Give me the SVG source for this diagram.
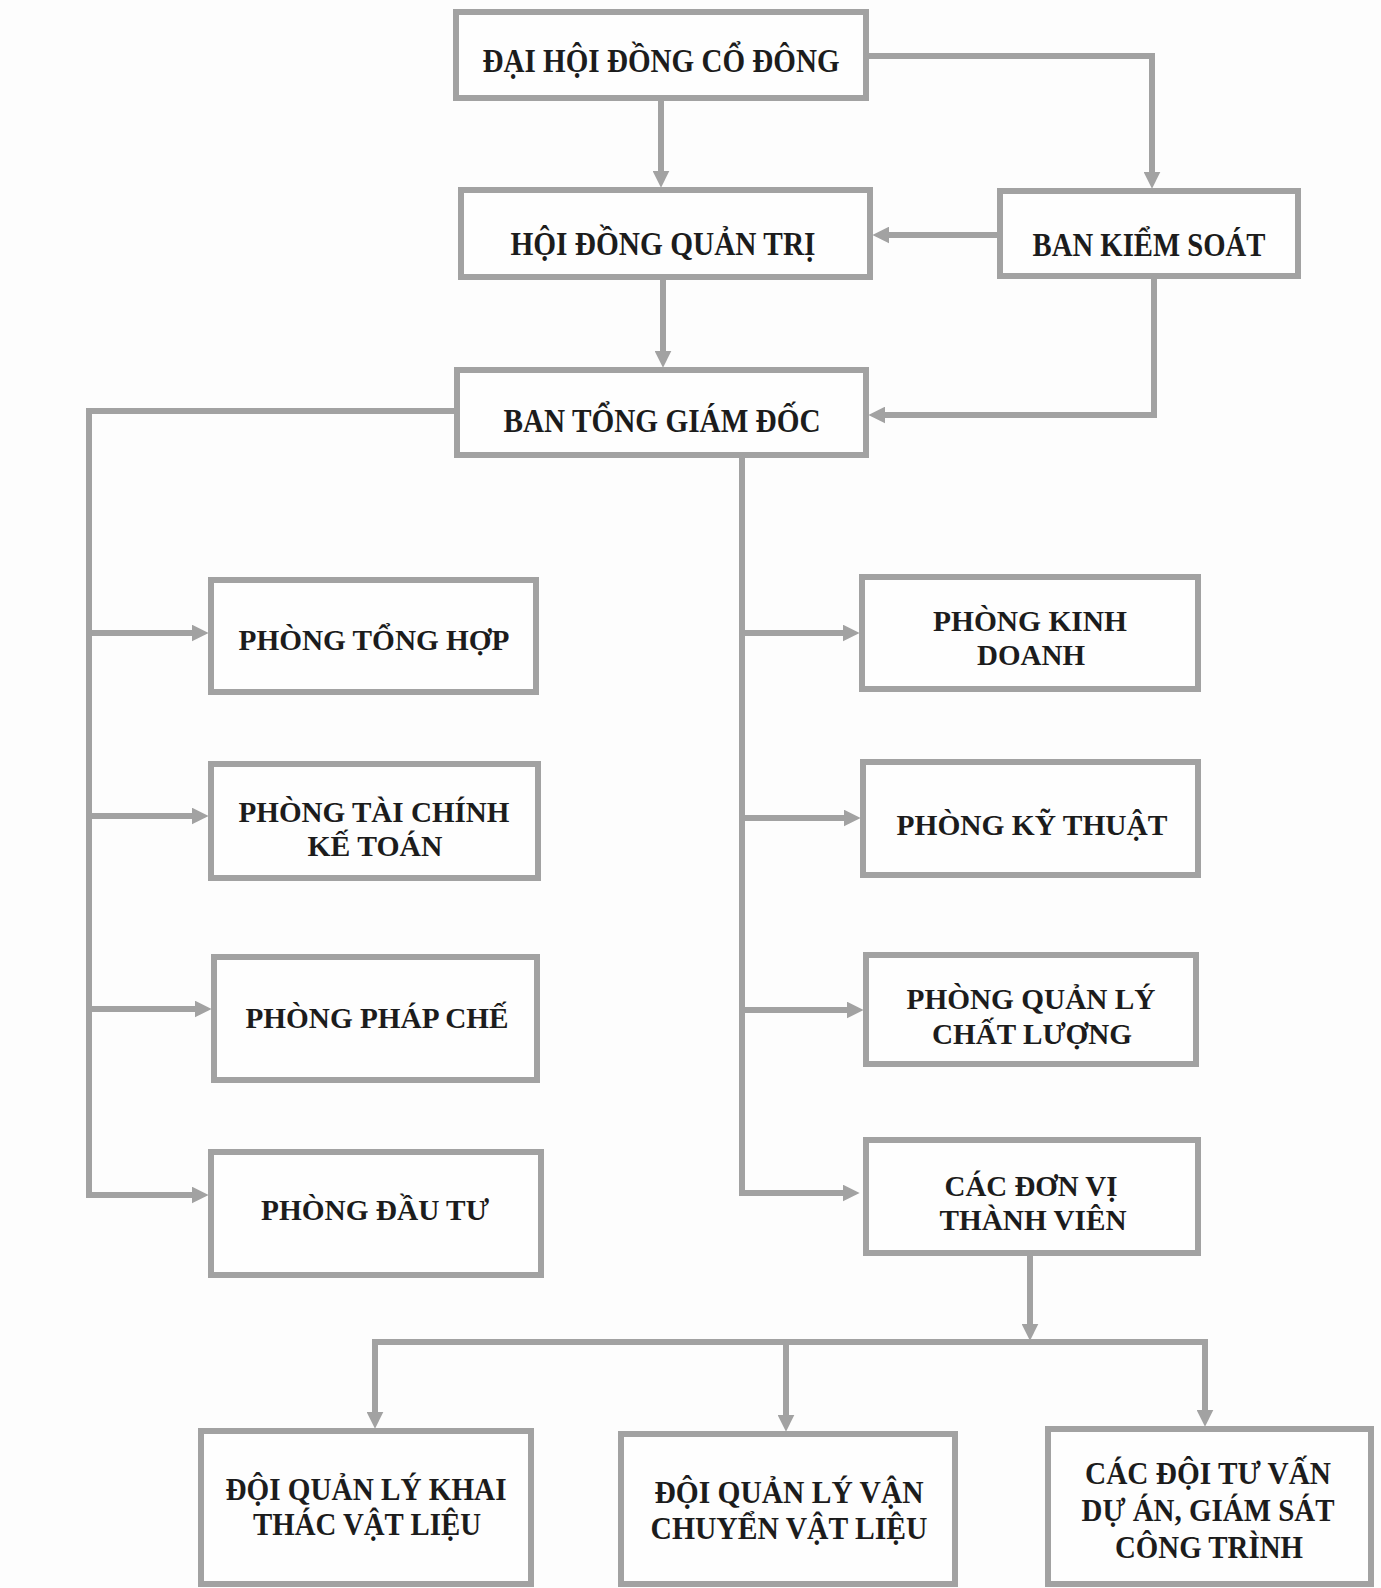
<svg xmlns="http://www.w3.org/2000/svg" width="1381" height="1588" viewBox="0 0 1381 1588">
<style>
.box{fill:#fefefe;stroke:#a2a2a2;stroke-width:6}
.con{fill:none;stroke:#a2a2a2;stroke-width:6;stroke-linecap:square;stroke-linejoin:miter}
.arr{marker-end:url(#ah)}
.t{font-family:"Liberation Serif","Times New Roman",serif;font-weight:bold;font-size:30px;fill:#1c1c1c;text-anchor:middle}
.tl{font-size:33px}
.tb{font-size:31px}
</style>
<defs>
<marker id="ah" viewBox="0 0 16 16" refX="6" refY="8" markerWidth="17" markerHeight="17" markerUnits="userSpaceOnUse" orient="auto">
<path d="M0,0 L16,8 L0,16 z" fill="#a2a2a2"/>
</marker>
</defs>
<rect width="1381" height="1588" fill="#fdfdfd"/>
<g id="connectors">
<path class="con arr" d="M661,101 V177"/>
<path class="con arr" d="M869,56 H1152 V178"/>
<path class="con arr" d="M997,235 H883"/>
<path class="con arr" d="M663,280 V357"/>
<path class="con arr" d="M1154,279 V415 H879"/>
<path class="con arr" d="M451,411 H89 V1195 H198"/>
<path class="con arr" d="M89,633 H198"/>
<path class="con arr" d="M89,816 H198"/>
<path class="con arr" d="M89,1009 H201"/>
<path class="con arr" d="M742,458 V1193 H849"/>
<path class="con arr" d="M742,633 H849"/>
<path class="con arr" d="M742,818 H850"/>
<path class="con arr" d="M742,1010 H853"/>
<path class="con arr" d="M1030,1256 V1330"/>
<path class="con" d="M375,1342 H1205"/>
<path class="con arr" d="M375,1342 V1418"/>
<path class="con arr" d="M786,1342 V1421"/>
<path class="con arr" d="M1205,1342 V1416"/>
</g>
<g id="dai-hoi-dong-co-dong">
<rect class="box" x="456" y="12" width="410" height="86"/>
<text class="t tl" x="661" y="72" textLength="357" lengthAdjust="spacingAndGlyphs">ĐẠI HỘI ĐỒNG CỔ ĐÔNG</text>
</g>
<g id="hoi-dong-quan-tri">
<rect class="box" x="461" y="190" width="409" height="87"/>
<text class="t tl" x="663" y="255" textLength="305" lengthAdjust="spacingAndGlyphs">HỘI ĐỒNG QUẢN TRỊ</text>
</g>
<g id="ban-kiem-soat">
<rect class="box" x="1000" y="191" width="298" height="85"/>
<text class="t tl" x="1149" y="256" textLength="233" lengthAdjust="spacingAndGlyphs">BAN KIỂM SOÁT</text>
</g>
<g id="ban-tong-giam-doc">
<rect class="box" x="457" y="370" width="409" height="85"/>
<text class="t tl" x="662" y="432" textLength="317" lengthAdjust="spacingAndGlyphs">BAN TỔNG GIÁM ĐỐC</text>
</g>
<g id="phong-tong-hop">
<rect class="box" x="211" y="580" width="325" height="112"/>
<text class="t" x="374" y="650" textLength="271" lengthAdjust="spacingAndGlyphs">PHÒNG TỔNG HỢP</text>
</g>
<g id="phong-tai-chinh-ke-toan">
<rect class="box" x="211" y="764" width="327" height="114"/>
<text class="t" x="374" y="822" textLength="271" lengthAdjust="spacingAndGlyphs">PHÒNG TÀI CHÍNH</text>
<text class="t" x="375" y="856" textLength="135" lengthAdjust="spacingAndGlyphs">KẾ TOÁN</text>
</g>
<g id="phong-phap-che">
<rect class="box" x="214" y="957" width="323" height="123"/>
<text class="t" x="377" y="1028" textLength="263" lengthAdjust="spacingAndGlyphs">PHÒNG PHÁP CHẾ</text>
</g>
<g id="phong-dau-tu">
<rect class="box" x="211" y="1152" width="330" height="123"/>
<text class="t" x="375" y="1220" textLength="228" lengthAdjust="spacingAndGlyphs">PHÒNG ĐẦU TƯ</text>
</g>
<g id="phong-kinh-doanh">
<rect class="box" x="862" y="577" width="336" height="112"/>
<text class="t" x="1030" y="631" textLength="194" lengthAdjust="spacingAndGlyphs">PHÒNG KINH</text>
<text class="t" x="1031" y="665" textLength="108" lengthAdjust="spacingAndGlyphs">DOANH</text>
</g>
<g id="phong-ky-thuat">
<rect class="box" x="863" y="762" width="335" height="113"/>
<text class="t" x="1032" y="835" textLength="271" lengthAdjust="spacingAndGlyphs">PHÒNG KỸ THUẬT</text>
</g>
<g id="phong-quan-ly-chat-luong">
<rect class="box" x="866" y="955" width="330" height="109"/>
<text class="t" x="1031" y="1009" textLength="249" lengthAdjust="spacingAndGlyphs">PHÒNG QUẢN LÝ</text>
<text class="t" x="1032" y="1044" textLength="200" lengthAdjust="spacingAndGlyphs">CHẤT LƯỢNG</text>
</g>
<g id="cac-don-vi-thanh-vien">
<rect class="box" x="866" y="1140" width="332" height="113"/>
<text class="t" x="1031" y="1196" textLength="173" lengthAdjust="spacingAndGlyphs">CÁC ĐƠN VỊ</text>
<text class="t" x="1033" y="1230" textLength="187" lengthAdjust="spacingAndGlyphs">THÀNH VIÊN</text>
</g>
<g id="doi-quan-ly-khai-thac-vat-lieu">
<rect class="box" x="201" y="1431" width="330" height="153"/>
<text class="t tb" x="366" y="1500" textLength="281" lengthAdjust="spacingAndGlyphs">ĐỘI QUẢN LÝ KHAI</text>
<text class="t tb" x="367" y="1535" textLength="228" lengthAdjust="spacingAndGlyphs">THÁC VẬT LIỆU</text>
</g>
<g id="doi-quan-ly-van-chuyen-vat-lieu">
<rect class="box" x="621" y="1434" width="334" height="150"/>
<text class="t tb" x="789" y="1503" textLength="269" lengthAdjust="spacingAndGlyphs">ĐỘI QUẢN LÝ VẬN</text>
<text class="t tb" x="789" y="1539" textLength="277" lengthAdjust="spacingAndGlyphs">CHUYỂN VẬT LIỆU</text>
</g>
<g id="cac-doi-tu-van">
<rect class="box" x="1048" y="1429" width="323" height="155"/>
<text class="t tb" x="1208" y="1484" textLength="246" lengthAdjust="spacingAndGlyphs">CÁC ĐỘI TƯ VẤN</text>
<text class="t tb" x="1208" y="1521" textLength="253" lengthAdjust="spacingAndGlyphs">DỰ ÁN, GIÁM SÁT</text>
<text class="t tb" x="1209" y="1558" textLength="188" lengthAdjust="spacingAndGlyphs">CÔNG TRÌNH</text>
</g>
</svg>
